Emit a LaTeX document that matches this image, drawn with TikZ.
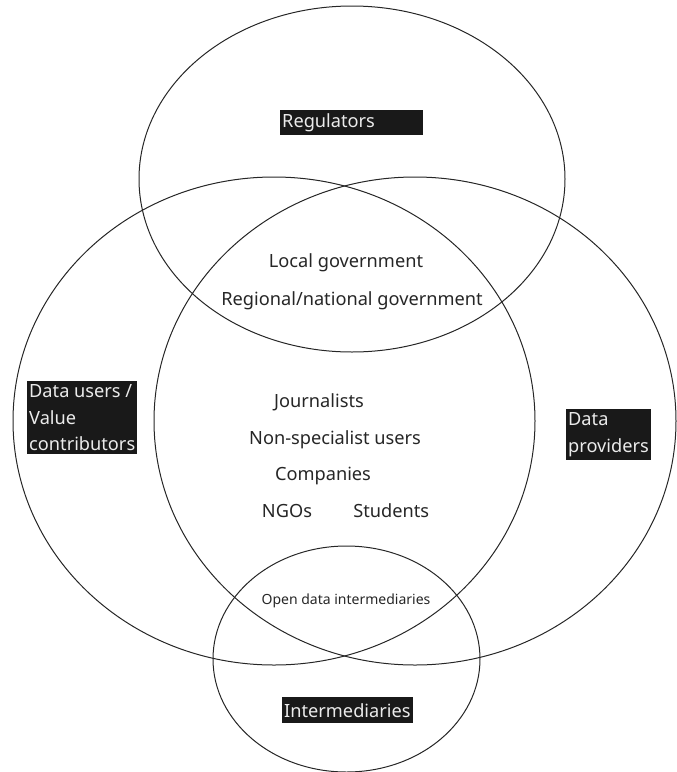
\documentclass[tikz,border=0pt]{standalone}
\usepackage{fontspec}
\setmainfont{Noto Sans}
\usetikzlibrary{positioning}

\tikzset{
  set/.style={draw=black!85, line width=1pt},
  role/.style={fill=black!90, text=white!92!black, inner xsep=2pt, inner ysep=3.5pt,
    align=left, font=\fontsize{18.2}{26.5}\selectfont},
  member/.style={font=\fontsize{18.2}{22}\selectfont, text=black!85, inner sep=0pt, text height=13pt, text depth=4pt},
  small/.style={font=\fontsize{14}{17}\selectfont, text=black!85, inner sep=0pt}
}

\begin{document}
\begin{tikzpicture}[x=1pt,y=-1pt]
  \useasboundingbox (0,0) rectangle (677,772);
  % the four groups
  \draw[set] (352,179) ellipse (213pt and 173pt);
  \draw[set] (274,421) ellipse (261pt and 244pt);
  \draw[set] (415,421) ellipse (261pt and 244pt);
  \draw[set] (346.5,659) ellipse (133.5pt and 113pt);
  %
  \node[role, anchor=north west, text width=139pt, minimum height=25pt, inner ysep=1pt] (reg) at (280,110) {Regulators};
  \node[role, anchor=north west] (users) at (27,381) {Data users /\\Value\\contributors};
  \node[role, anchor=north west] (prov) at (566,409) {Data\\providers};
  \node[role, anchor=north west, minimum height=26pt, inner ysep=1pt] (inter) at (282,697) {Intermediaries};
  %
  \node[member] (local) at (346,263) {Local government};
  \node[member, below=21pt of local, xshift=6pt] (regional) {Regional/national government};
  %
  \node[member] (journ) at (319,403) {Journalists};
  \node[member, below=20pt of journ, xshift=16pt] (nonspec) {Non-specialist users};
  \node[member, below=18pt of nonspec, xshift=-12pt] (comp) {Companies};
  \node[member, below=20pt of comp, xshift=-36pt] (ngos) {NGOs};
  \node[member, right=41pt of ngos] (stud) {Students};
  %
  \node[small] (opendata) at (346,601) {Open data intermediaries};
\end{tikzpicture}
\end{document}
